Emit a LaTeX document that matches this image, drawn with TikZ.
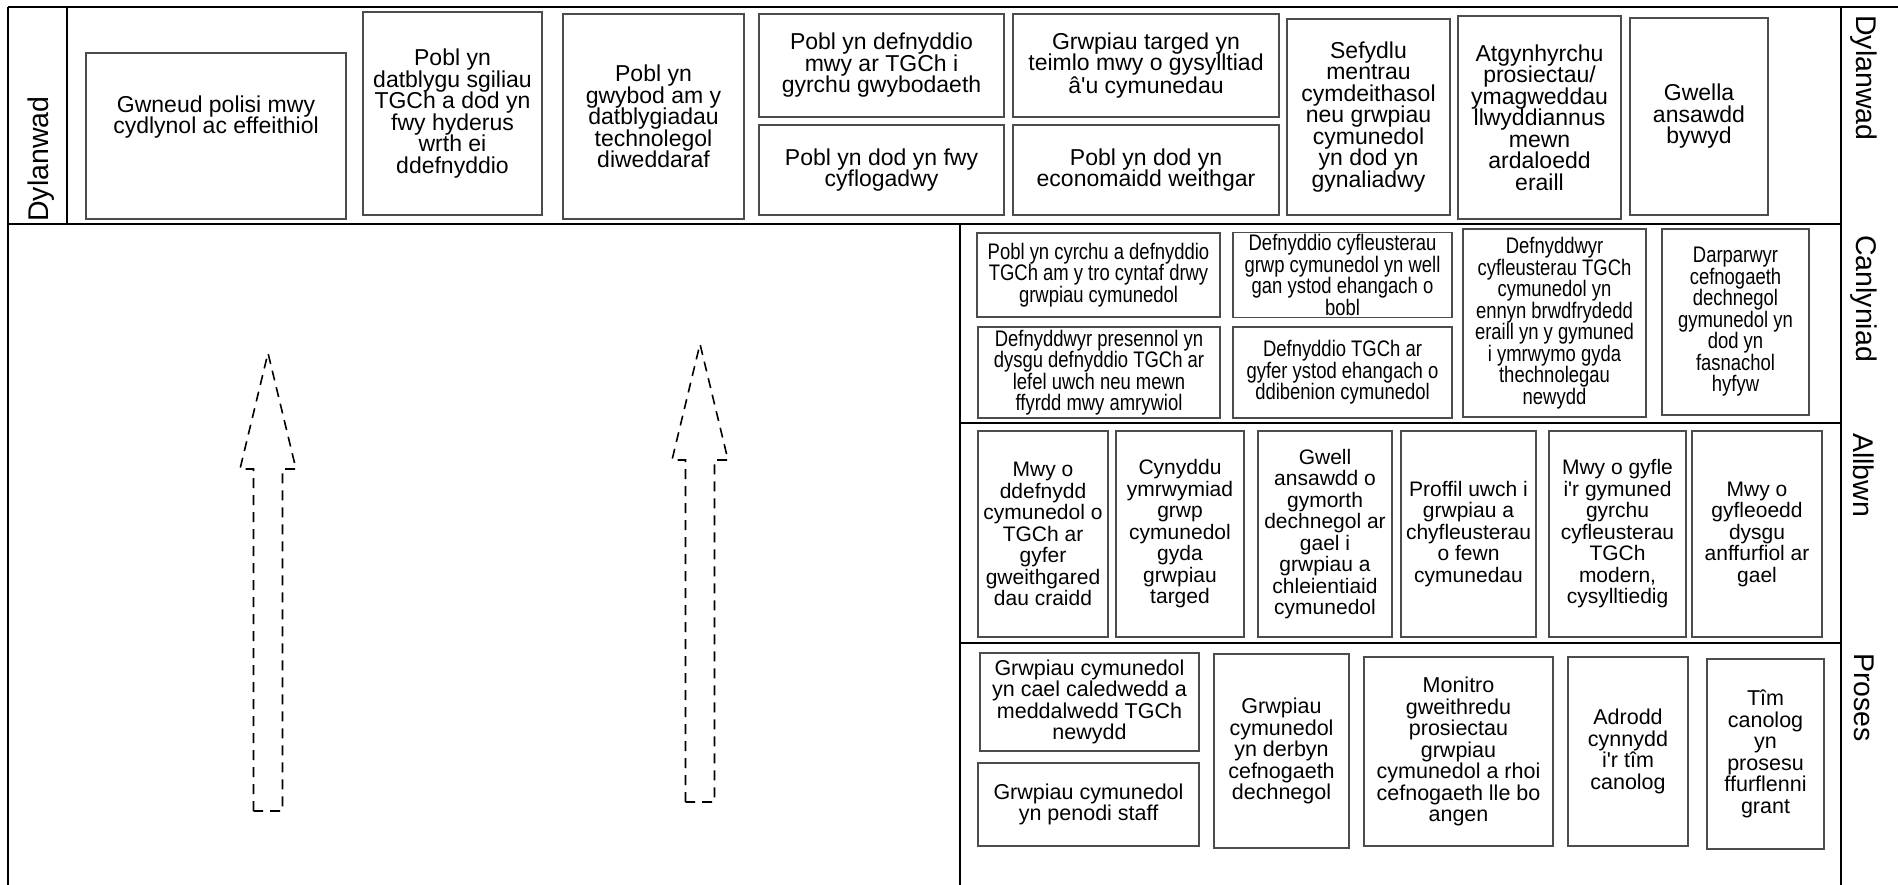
\documentclass[tikz,border=0pt]{standalone}
\usepackage{fontspec}
\setmainfont{Liberation Sans}
\newfontfamily\narrowfont[FakeStretch=0.82]{Liberation Sans}
\usetikzlibrary{positioning}

\tikzset{
  frame/.style={line width=2.6pt},
  box/.style={draw=black!70, line width=1.3pt, align=center, inner sep=2pt},
  dylbox/.style={box, font=\fontsize{23}{21.5}\selectfont},
  canbox/.style={box, font=\narrowfont\fontsize{22.5}{21.5}\selectfont},
  allbox/.style={box, font=\fontsize{21}{21.5}\selectfont},
  probox/.style={box, font=\fontsize{21.5}{21.5}\selectfont},
  bandlabel/.style={font=\fontsize{28.5}{30}\selectfont, anchor=west, inner sep=0pt},
  hollowarrow/.style={dash pattern=on 10pt off 7pt, line width=1.6pt}
}

\begin{document}
\begin{tikzpicture}[x=1pt, y=-1pt]
  \useasboundingbox (0,0) rectangle (1898,885);

  % Frame of the bands
  \draw[frame] (8,7) -- (1898,7);
  \draw[frame] (8,7) -- (8,885);
  \draw[frame] (67,7) -- (67,224);
  \draw[frame] (8,224) -- (1841,224);
  \draw[frame] (960,224) -- (960,885);
  \draw[frame] (960,423) -- (1841,423);
  \draw[frame] (960,643) -- (1841,643);
  \draw[frame] (1841,7) -- (1841,885);

  % Band labels
  \node[bandlabel, rotate=90] (dylchwith) at (41,222) {Dylanwad};
  \node[bandlabel, rotate=-90] (dyldde) at (1864,15) {Dylanwad};
  \node[bandlabel, rotate=-90] (canlyniad) at (1864,235) {Canlyniad};
  \node[bandlabel, rotate=-90] (allbwn) at (1864,433) {Allbwn};
  \node[bandlabel, rotate=-90] (proses) at (1864,653) {Proses};

  % Dylanwad
  \node[dylbox, minimum width=260, minimum height=166] (polisi) at (216,136) {};
  \node[font=\fontsize{23}{21.5}\selectfont, align=center] (polisitestun) at (216,117) {Gwneud polisi mwy\\cydlynol ac effeithiol};
  \node[dylbox, minimum width=179, minimum height=203] (sgiliau) at (452.5,113.5) {Pobl yn\\datblygu sgiliau\\TGCh a dod yn\\fwy hyderus\\wrth ei\\ddefnyddio};
  \node[dylbox, minimum width=181, minimum height=205] (gwybod) at (653.5,116.5) {Pobl yn\\gwybod am y\\datblygiadau\\technolegol\\diweddaraf};
  \node[dylbox, minimum width=245, minimum height=103] (gwybodaeth) at (881.5,65.5) {Pobl yn defnyddio\\mwy ar TGCh i\\gyrchu gwybodaeth};
  \node[dylbox, minimum width=245, minimum height=90] (cyflog) at (881.5,170) {Pobl yn dod yn fwy\\cyflogadwy};
  \node[dylbox, minimum width=266, minimum height=103] (cysylltiad) at (1146,65.5) {Grwpiau targed yn\\teimlo mwy o gysylltiad\\â\textquotesingle u cymunedau};
  \node[dylbox, minimum width=266, minimum height=90] (economaidd) at (1146,170) {Pobl yn dod yn\\economaidd weithgar};
  \node[dylbox, minimum width=163, minimum height=196] (mentrau) at (1368.5,117) {Sefydlu\\mentrau\\cymdeithasol\\neu grwpiau\\cymunedol\\yn dod yn\\gynaliadwy};
  \node[dylbox, minimum width=163, minimum height=203] (atgynhyrchu) at (1539.5,117.5) {Atgynhyrchu\\prosiectau/\\ymagweddau\\llwyddiannus\\mewn\\ardaloedd\\eraill};
  \node[dylbox, minimum width=138, minimum height=197] (bywyd) at (1699,116.5) {Gwella\\ansawdd\\bywyd};

  % Canlyniad
  \node[canbox, minimum width=243, minimum height=84] (cyrchu) at (1098.5,275) {Pobl yn cyrchu a defnyddio\\TGCh am y tro cyntaf drwy\\grwpiau cymunedol};
  \node[canbox, minimum width=219, minimum height=84] (cyfleusterau) at (1342.5,275) {Defnyddio cyfleusterau\\grwp cymunedol yn well\\gan ystod ehangach o\\bobl};
  \node[canbox, minimum width=242, minimum height=91] (presennol) at (1099,372.5) {Defnyddwyr presennol yn\\dysgu defnyddio TGCh ar\\lefel uwch neu mewn\\ffyrdd mwy amrywiol};
  \node[canbox, minimum width=219, minimum height=91] (dibenion) at (1342.5,372.5) {Defnyddio TGCh ar\\gyfer ystod ehangach o\\ddibenion cymunedol};
  \node[canbox, minimum width=183, minimum height=188] (brwdfrydedd) at (1554.5,323) {Defnyddwyr\\cyfleusterau TGCh\\cymunedol yn\\ennyn brwdfrydedd\\eraill yn y gymuned\\i ymrwymo gyda\\thechnolegau\\newydd};
  \node[canbox, minimum width=147, minimum height=186] (darparwyr) at (1735.5,322) {Darparwyr\\cefnogaeth\\dechnegol\\gymunedol yn\\dod yn\\fasnachol\\hyfyw};

  % Allbwn
  \node[allbox, minimum width=130, minimum height=206] (ddefnydd) at (1043,534) {Mwy o\\ddefnydd\\cymunedol o\\TGCh ar\\gyfer\\gweithgared\\dau craidd};
  \node[allbox, minimum width=128, minimum height=206] (ymrwymiad) at (1180,534) {Cynyddu\\ymrwymiad\\grwp\\cymunedol\\gyda\\grwpiau\\targed};
  \node[allbox, minimum width=134, minimum height=206] (gymorth) at (1325,534) {Gwell\\ansawdd o\\gymorth\\dechnegol ar\\gael i\\grwpiau a\\chleientiaid\\cymunedol};
  \node[allbox, minimum width=135, minimum height=206] (proffil) at (1468.5,534) {Proffil uwch i\\grwpiau a\\chyfleusterau\\o fewn\\cymunedau};
  \node[allbox, minimum width=137, minimum height=206] (gyfle) at (1617.5,534) {Mwy o gyfle\\i\textquotesingle r gymuned\\gyrchu\\cyfleusterau\\TGCh\\modern,\\cysylltiedig};
  \node[allbox, minimum width=130, minimum height=206] (dysgu) at (1757,534) {Mwy o\\gyfleoedd\\dysgu\\anffurfiol ar\\gael};

  % Proses
  \node[probox, minimum width=219, minimum height=98] (caledwedd) at (1089.5,702) {Grwpiau cymunedol\\yn cael caledwedd a\\meddalwedd TGCh\\newydd};
  \node[probox, minimum width=221, minimum height=83] (staff) at (1088.5,804.5) {Grwpiau cymunedol\\yn penodi staff};
  \node[probox, minimum width=135, minimum height=194] (derbyn) at (1281.5,751) {Grwpiau\\cymunedol\\yn derbyn\\cefnogaeth\\dechnegol};
  \node[probox, minimum width=189, minimum height=189] (monitro) at (1458.5,751.5) {Monitro\\gweithredu\\prosiectau\\grwpiau\\cymunedol a rhoi\\cefnogaeth lle bo\\angen};
  \node[probox, minimum width=120, minimum height=189] (adrodd) at (1628,751.5) {Adrodd\\cynnydd\\i\textquotesingle r tîm\\canolog};
  \node[probox, minimum width=117, minimum height=190] (prosesu) at (1765.5,754) {Tîm\\canolog\\yn\\prosesu\\ffurflenni\\grant};

  % Hollow dashed arrows
  \foreach \ax/\ay in {268/353, 700/344}
    \draw[hollowarrow] (\ax-14.5,\ay+458) -- (\ax-14.5,\ay+116) -- (\ax-28,\ay+116)
      -- (\ax,\ay) -- (\ax+28,\ay+116) -- (\ax+14.5,\ay+116) -- (\ax+14.5,\ay+458) -- cycle;
\end{tikzpicture}
\end{document}
